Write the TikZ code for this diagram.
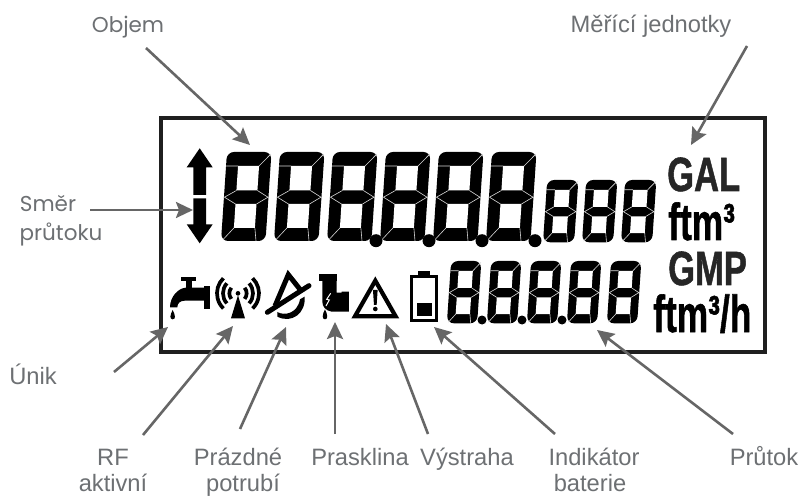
\documentclass[tikz,border=0pt]{standalone}
\usepackage{fontspec}
\usepackage{graphicx}
\setmainfont{Liberation Sans}
\newfontfamily\widefont{Poppins}
\newfontfamily\unitfont[BoldFeatures={FakeBold=1.2}]{Liberation Sans}
\usetikzlibrary{arrows.meta}
\definecolor{lab}{HTML}{6D7073}
\definecolor{arr}{HTML}{666666}
\tikzset{
 lbl/.style={inner sep=0pt,anchor=base,text=lab,font=\fontsize{23.7}{25}\selectfont},
 wlbl/.style={inner sep=0pt,anchor=base,text=lab,font=\fontsize{21.5}{23}\widefont},
 unitbig/.style={inner sep=0pt,anchor=base west,text=black!85,font=\fontsize{48}{50}\unitfont\bfseries},
 unitsm/.style={inner sep=0pt,anchor=base west,text=black,font=\fontsize{52}{54}\unitfont\bfseries},
 pointer/.style={draw=arr,line width=2.6pt,-{Stealth[length=17pt,width=16pt,inset=3pt]}},
 segline/.style={draw=white!85!black,line width=.6pt},
 frame/.style={draw=black!88,line width=4pt},
 dotp/.style={fill=black},
}
% digit: left x, top y, x scale, y scale
\newcommand{\lcdigit}[4]{%
 \begin{scope}[shift={(#1,#2)},x=#3pt,y=-#4pt]
  \begin{scope}[cm={1,0,0.0674,1,(6,0)}]
  \fill[black,rounded corners=7pt] (0,0) rectangle (44.5,89);
  \fill[white] (12,14) rectangle (33,38.5);
  \fill[white] (12,52) rectangle (33,76);
  \draw[segline] (0,14)--(12,14) (33,14)--(44,2)
     (12,38.5)--(0.5,45.2)--(12,52) (33,38.5)--(44,45.2)--(33,52)
     (12,76)--(2,87.5) (33,76)--(35,89);
  \end{scope}
 \end{scope}}
\begin{document}
\begin{tikzpicture}[x=1pt,y=-1pt]
\useasboundingbox (0,0) rectangle (801,497);
\fill[white] (0,0) rectangle (801,497);
\draw[frame] (160.5,118) rectangle (765,352);

% big digits
\foreach \i in {0,...,5} {\lcdigit{221+53*\i}{152}{1}{1}}
\foreach \c in {376,429,482,535} {\fill[dotp] (\c,240.7) circle (6.5);}
% small digits
\foreach \c in {543,582,621} {\lcdigit{\c}{180}{.7}{.7}}
\foreach \c in {447,487,527,567,607} {\lcdigit{\c}{261}{.68}{.7}}
\foreach \c in {482,522,562} {\fill[dotp] (\c,320) circle (4.5);}

% double arrow
\fill (199.7,148.3)--(212.7,167.3)--(206,167.3)--(206,195)--(193.3,195)--(193.3,167.3)--(186.7,167.3)--cycle;
\fill (199.7,243.3)--(212.7,224.3)--(206,224.3)--(206,198.3)--(193.3,198.3)--(193.3,224.3)--(186.7,224.3)--cycle;

% icons, in 3x crop coordinates
\begin{scope}[shift={(160,250)},x=.3333pt,y=-.3333pt]
 % faucet
 \fill (62,82) rectangle (108,93);
 \fill (78,93) rectangle (95,115);
 \fill (133,108) rectangle (150,178);
 \fill (30,172) .. controls (30,140) and (55,114) .. (78,113) -- (133,113) -- (133,152) -- (75,152) .. controls (60,152) and (52,160) .. (52,172) -- cycle;
 \fill (38,180) .. controls (30,195) and (28,208) .. (38,208) .. controls (48,208) and (46,195) .. (38,180);
 % radio
 \fill (234,130) circle (7);
 \fill (234,136)--(255,205)--(213,205)--cycle;
 \begin{scope}[line width=3.7pt]
  \foreach \r/\a in {26/40,45/42,63/46}{
   \draw ({234+\r*cos(\a)},{130-\r*sin(\a)}) arc[start angle=\a,end angle=-\a,x radius=\r,y radius=-\r];
   \draw ({234-\r*cos(\a)},{130-\r*sin(\a)}) arc[start angle=180-\a,end angle=180+\a,x radius=\r,y radius=-\r];
  }
 \end{scope}
 % empty pipe
 \draw[line width=5pt,line join=miter] (345,168)--(385,74)--(420,118);
 \draw[line width=5pt,line cap=round] (322,187)--(447,107);
 \fill (352,186) .. controls (372,198) and (412,192) .. (420,148) -- (434,140) .. controls (438,190) and (395,222) .. (352,200) -- cycle;
 % cracked pipe
 \fill (477,73) rectangle (530,92);
 \fill (487,92)--(530,92)--(530,128)--(545,128)--(545,125)--(567,125)--(567,185)--(515,185) .. controls (497,182) and (487,170) .. (487,155) -- cycle;
 \draw[white,line width=1pt] (512,130)--(500,148)--(508,150)--(498,168);
 \fill (495,178) .. controls (487,193) and (485,208) .. (495,208) .. controls (505,208) and (503,193) .. (495,178);
 % warning
 \draw[line width=4.2pt,line join=miter] (646,92)--(707,199)--(585,199)--cycle;
 \fill (639,120)--(653,120)--(650,165)--(642,165)--cycle;
 \fill (646,177) circle (7);
 % battery
 \draw[line width=3.4pt] (755,80) rectangle (830,211);
 \fill (773,63) rectangle (810,76);
 \fill (770,160) rectangle (815,198);
\end{scope}

% units
\node[unitbig] (gal) at (667,191) {\scalebox{.72}[1]{GAL}};
\node[unitsm] (ftma) at (668,240) {\scalebox{.68}[1]{ftm³}};
\node[unitbig] (gmp) at (668,285) {\scalebox{.72}[1]{GMP}};
\node[unitsm] (ftmb) at (653,332) {\scalebox{.68}[1]{ftm³/h}};

% labels
\node[wlbl] (objem) at (128,33) {Objem};
\node[lbl] (jedn) at (651,33) {Měřící jednotky};
\node[wlbl] (smer) at (48,212) {Směr};
\node[wlbl] (prut) at (61,241) {průtoku};
\node[lbl] (unik) at (33,384) {Únik};
\node[lbl] (rf) at (113,465) {RF};
\node[lbl] (akt) at (113,491.5) {aktivní};
\node[lbl] (prazd) at (238,465) {Prázdné};
\node[lbl] (potr) at (243,491.5) {potrubí};
\node[lbl] (prask) at (360,465) {Prasklina};
\node[lbl] (vystr) at (467,465) {Výstraha};
\node[lbl] (indik) at (594,465) {Indikátor};
\node[lbl] (bat) at (590,491.5) {baterie};
\node[lbl] (prutok) at (764,465) {Průtok};

% connector ends
\coordinate (oS) at (146,48);   \coordinate (oT) at (250,145);
\coordinate (jS) at (747,46);   \coordinate (jT) at (691,145);
\coordinate (sS) at (90,210);   \coordinate (sT) at (193,210);
\coordinate (uS) at (114,372);  \coordinate (uT) at (168,327);
\coordinate (rS) at (143,435);  \coordinate (rT) at (233,326);
\coordinate (pS) at (240,429);  \coordinate (pT) at (286,327);
\coordinate (kS) at (335,434);  \coordinate (kT) at (335,322);
\coordinate (vS) at (428,434);  \coordinate (vT) at (386,324);
\coordinate (iS) at (555,434);  \coordinate (iT) at (434,327);
\coordinate (tS) at (733,434);  \coordinate (tT) at (597,330);
\foreach \a/\b in {oS/oT,jS/jT,sS/sT,uS/uT,rS/rT,pS/pT,kS/kT,vS/vT,iS/iT,tS/tT}
  \draw[pointer] (\a) -- (\b);
\end{tikzpicture}
\end{document}
